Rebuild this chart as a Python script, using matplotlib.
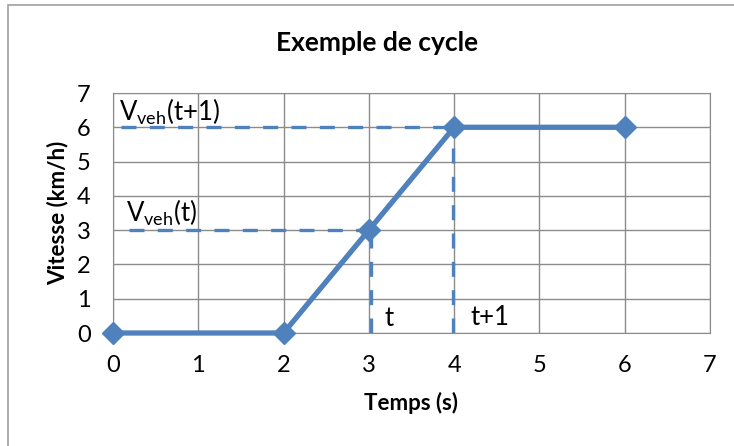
import matplotlib.pyplot as plt
from matplotlib.patches import Rectangle

plt.rcParams['font.family'] = ['Lato', 'DejaVu Sans']

# speed cycle
temps = [0, 2, 3, 4, 6]
vitesse = [0, 0, 3, 6, 6]

# reference points t and t+1
t_ref = [3, 4]
v_ref = [3, 6]
labels_v = [r'V$_{\mathregular{veh}}$(t)', r'V$_{\mathregular{veh}}$(t+1)']
labels_t = ['t', 't+1']

ticks = list(range(8))
blue = '#4F81BD'
grid = '#8C8C8C'

fig = plt.figure(figsize=(7.34, 4.46), dpi=100)
ax = fig.add_axes([113 / 734, 1 - 333 / 446, 597 / 734, 240 / 446])

# outer chart frame
fig.patches.append(Rectangle((8 / 734, -0.1), 1.2, 1.1 - 5 / 446,
                             transform=fig.transFigure, fill=False,
                             edgecolor='#A0A0A0', lw=1.2))

ax.set_xlim(0, 7)
ax.set_ylim(0, 7)
ax.set_xticks(ticks)
ax.set_yticks(ticks)
ax.grid(True, color=grid, lw=1)
ax.set_axisbelow(True)
for s in ax.spines.values():
    s.set_color(grid)
ax.tick_params(length=0, labelsize=17, pad=16)

# dashed guides
dash = dict(ls=(0, (4.5, 4)), color=blue, lw=2.4)
ax.plot([0.19, t_ref[0]], [v_ref[0], v_ref[0]], **dash)
ax.plot([t_ref[0] + 0.02] * 2, [0, v_ref[0]], **dash)
ax.plot([0.09, t_ref[1]], [v_ref[1], v_ref[1]], **dash)
ax.plot([t_ref[1] - 0.01] * 2, [0, v_ref[1]], **dash)

ax.plot(temps, vitesse, color=blue, lw=3.8, marker='D', markersize=11,
        clip_on=False, zorder=5)

ax.text(0.15, 3.5, labels_v[0], fontsize=18.5, va='center', ha='left')
ax.text(0.07, 6.44, labels_v[1], fontsize=18.5, va='center', ha='left')
ax.text(3.18, 0.42, labels_t[0], fontsize=18.5, va='center', ha='left')
ax.text(4.19, 0.44, labels_t[1], fontsize=18.5, va='center', ha='left')

fig.text(377 / 734, 1 - 43 / 446, 'Exemple de cycle', fontsize=19,
         fontweight='bold', ha='center', va='center')
fig.text(411 / 734, 1 - 403 / 446, 'Temps (s)', fontsize=16,
         fontweight='bold', ha='center', va='center')
fig.text(58 / 734, 1 - 213 / 446, 'Vitesse (km/h)', fontsize=16,
         fontweight='bold', ha='center', va='center', rotation=90)

fig.savefig('out.png', dpi=100)
